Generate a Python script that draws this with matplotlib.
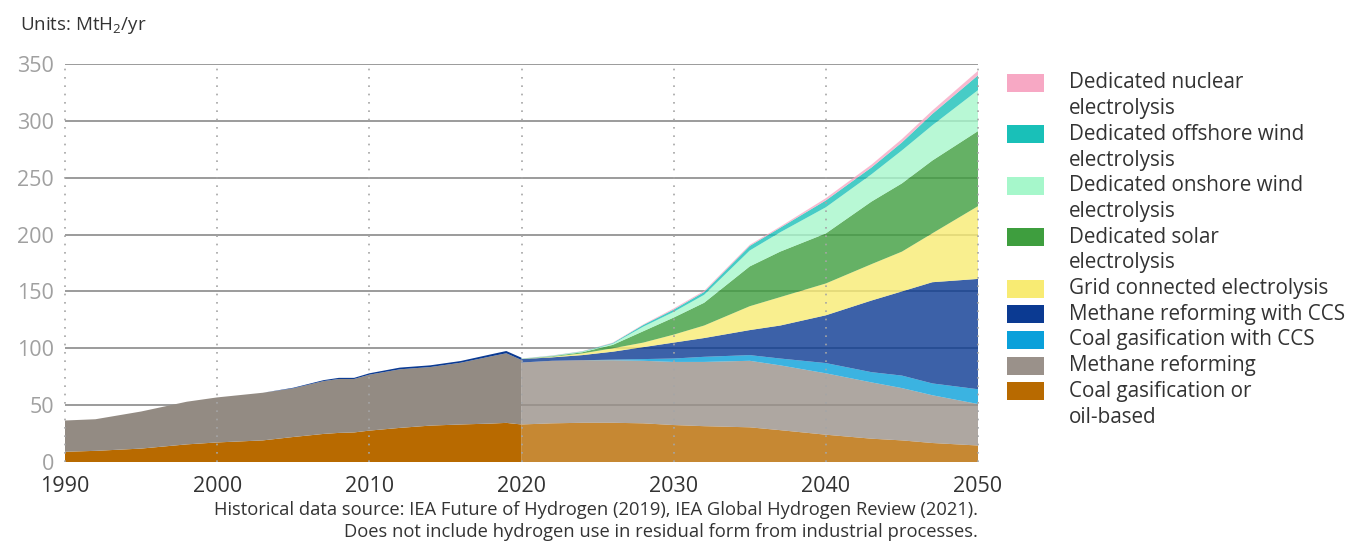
import matplotlib
matplotlib.use("Agg")
import matplotlib.pyplot as plt
from matplotlib.patches import Rectangle

plt.rcParams['font.family'] = ['Open Sans', 'DejaVu Sans']
plt.rcParams['mathtext.default'] = 'regular'

# Historical data (1990-2020)
hist_years = [1990, 1992, 1995, 1998, 2000, 2003, 2005, 2007, 2008, 2009,
              2010, 2012, 2014, 2016, 2018, 2019, 2020]
hist_coal = [9, 9.8, 11.8, 15.5, 17.2, 19, 22, 24.7, 25.6, 26,
             27.6, 30, 32, 33, 33.8, 34.4, 33]
hist_methane = [27.5, 27.8, 32.6, 37.5, 39.6, 41.9, 42.8, 46.5, 47.4, 47,
                49.2, 51.5, 51.5, 54.3, 59.1, 61.2, 56.7]
hist_methane_ccs = [0, 0, 0, 0, 0, 0, 0.5, 0.8, 1, 1,
                    1.2, 1.5, 1.5, 1.5, 1.8, 2, 2]

# Projection (2020-2050)
proj_years = [2020, 2022, 2024, 2026, 2028, 2030, 2032, 2035, 2037, 2040,
              2043, 2045, 2047, 2050]
coal = [33, 34, 34.5, 34.5, 34, 32.5, 31.5, 30.5, 28, 24, 20.5, 19, 16.7, 14.5]
methane = [54.5, 55, 55, 55, 55, 55.5, 56.5, 58.5, 57, 54, 49.5, 46, 42, 36.5]
coal_ccs = [0, 0, 0, 0.5, 1.5, 3, 4.5, 5, 6, 9, 9, 11, 10.4, 13]
methane_ccs = [3, 3, 4.5, 7, 10.5, 14, 16.5, 22, 29, 42, 63, 74, 89, 97]
grid = [0, 0.5, 1.5, 3, 4, 7, 11, 21, 25, 28, 32, 35, 43, 64]
solar = [0.2, 0.5, 1, 3, 10, 15, 20, 35, 40, 44, 55, 60, 64, 66]
onshore = [0.1, 0.3, 0.5, 1, 4, 5, 7, 14, 17, 23, 24, 29, 31, 36]
offshore = [0.1, 0.2, 0.3, 0.6, 1.5, 2, 2.5, 4, 4, 6, 6, 7, 10, 13]
nuclear = [0.1, 0.2, 0.2, 0.4, 0.5, 1, 1, 1, 1, 2, 2.5, 3, 3, 4]

labels = ["Dedicated nuclear\nelectrolysis",
          "Dedicated offshore wind\nelectrolysis",
          "Dedicated onshore wind\nelectrolysis",
          "Dedicated solar\nelectrolysis",
          "Grid connected electrolysis",
          "Methane reforming with CCS",
          "Coal gasification with CCS",
          "Methane reforming",
          "Coal gasification or\noil-based"]
colors = ['#F7A8C4', '#19C0B8', '#A6F7CB', '#3E9E3E', '#F8EB73',
          '#0B3A92', '#0AA0DA', '#9A918A', '#B86A00']

fig = plt.figure(figsize=(13.57, 5.41), dpi=100)
ax = fig.add_axes([65 / 1357, 79 / 541, 913 / 1357, 398 / 541])

# horizontal grid below areas
for v in range(50, 351, 50):
    ax.axhline(v, color='#8A8A8A', lw=1.2, zorder=0)

ax.stackplot(hist_years, hist_coal, hist_methane, hist_methane_ccs,
             colors=['#B86A00', '#938B83', '#0B3A92'], lw=0, zorder=1)
ax.stackplot(proj_years, coal, methane, coal_ccs, methane_ccs, grid, solar,
             onshore, offshore, nuclear,
             colors=colors[::-1], alpha=0.8, lw=0, zorder=1)

for yr in range(1990, 2051, 10):
    ax.plot([yr, yr], [0, 348], color='#A5A5A5', lw=1.2, ls=(0, (1, 4)),
            zorder=2, clip_on=False)

ax.set_xlim(1990, 2050)
ax.set_ylim(0, 350)
ax.set_xticks(range(1990, 2051, 10))
ax.set_yticks(range(0, 351, 50))
ax.tick_params(axis='both', length=0)
ax.tick_params(axis='y', labelsize=15.5, labelcolor='#A0A0A0', pad=8)
ax.tick_params(axis='x', labelsize=15.5, labelcolor='#333333', pad=10)
for s in ax.spines.values():
    s.set_visible(False)

fig.text(20 / 1357, 1 - 25 / 541, "Units: MtH$_2$/yr", fontsize=13.5,
         color='#333333', va='center', ha='left')

# legend
line_h = 25.7
row = 0
for lab, col in zip(labels, colors):
    y = 83 + row * line_h
    fig.add_artist(Rectangle((1007 / 1357, 1 - (y + 9) / 541), 37 / 1357, 18 / 541,
                             transform=fig.transFigure, color=col, lw=0))
    for i, part in enumerate(lab.split("\n")):
        fig.text(1069 / 1357, 1 - (y + i * line_h) / 541, part, fontsize=14.9,
                 color='#333333', va='center', ha='left')
    row += len(lab.split("\n"))

fig.text(978 / 1357, 1 - 510 / 541,
         "Historical data source: IEA Future of Hydrogen (2019), IEA Global Hydrogen Review (2021).",
         fontsize=13.2, color='#333333', ha='right', va='center')
fig.text(978 / 1357, 1 - 532 / 541,
         "Does not include hydrogen use in residual form from industrial processes.",
         fontsize=13.2, color='#333333', ha='right', va='center')

fig.savefig("out.png", dpi=100)
